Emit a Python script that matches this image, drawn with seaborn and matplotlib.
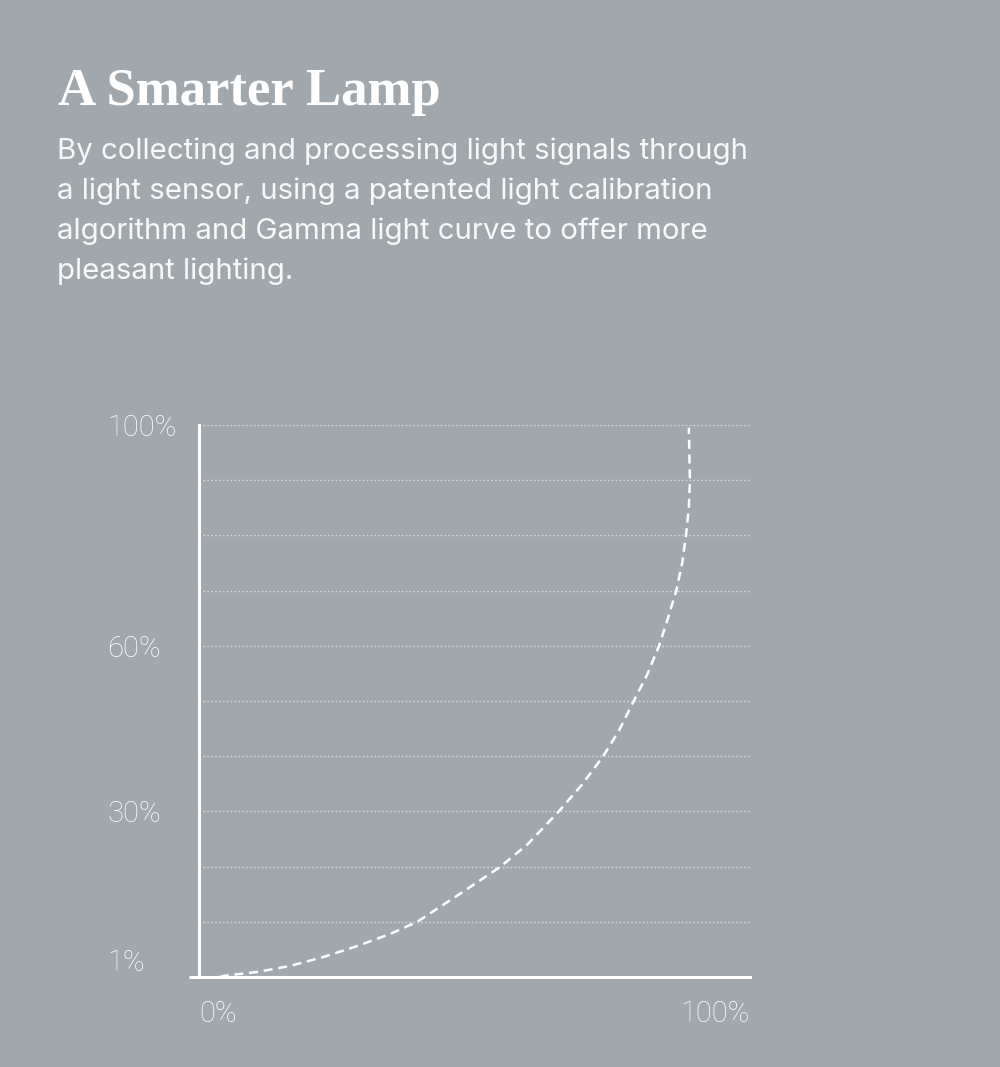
import matplotlib
matplotlib.use("Agg")
import matplotlib.pyplot as plt
import matplotlib.transforms as mtransforms
import seaborn as sns

# Text
title = "A Smarter Lamp"
body_lines = [
    "By collecting and processing light signals through",
    "a light sensor, using a patented light calibration",
    "algorithm and Gamma light curve to offer more",
    "pleasant lighting.",
]

# Gamma light curve (input % -> output %)
curve_x = [3.8, 4.4, 10.5, 16.5, 22.5, 28.7, 34.7, 39.6, 46.8, 54.6, 59.7, 65.2,
           69.3, 73.3, 76.2, 78.9, 81.3, 83.5, 85.1, 86.6, 87.7, 88.4, 88.9,
           89.1, 89.0, 88.9]
curve_y = [0.0, 0.2, 0.9, 2.0, 3.6, 5.6, 7.8, 10.0, 14.7, 19.9, 24.1, 29.9,
           34.6, 39.9, 44.6, 50.0, 54.7, 60.0, 65.0, 69.9, 75.0, 80.1, 85.0,
           90.0, 94.6, 99.5]

# Ticks and dotted guide levels
y_ticks = [1, 30, 60, 100]
y_tick_labels = ["1%", "30%", "60%", "100%"]
x_ticks = [0, 100]
x_tick_labels = ["0%", "100%"]
grid_levels = [10, 20, 30, 40, 50, 60, 70, 80, 90, 100]

bg = "#a1a8ad"
sns.set_theme(style="white", rc={"figure.facecolor": bg, "axes.facecolor": bg,
                                 "savefig.facecolor": bg})
plt.rcParams["font.family"] = ["Roboto", "DejaVu Sans"]

fig = plt.figure(figsize=(10, 10.67), dpi=100)
ax = fig.add_axes([0.199, 90 / 1067, 0.551, 552 / 1067])

# dotted guides
ax.hlines(grid_levels, 0, 100, colors="#d6dadc", linewidth=1.0,
          linestyles=(0, (1.2, 1.6)), zorder=1)

# the curve
sns.lineplot(x=curve_x, y=curve_y, sort=False, estimator=None, ax=ax,
             color="white", linewidth=1.8, linestyle=(0, (3.6, 2.3)), clip_on=False, zorder=3)

ax.set_xlim(0, 100)
ax.set_ylim(0, 100)
ax.set_xlabel("")
ax.set_ylabel("")

for side in ["top", "right"]:
    ax.spines[side].set_visible(False)
for side in ["left", "bottom"]:
    ax.spines[side].set_color("white")
    ax.spines[side].set_linewidth(2.2)

lab_color = "white"
ax.set_yticks(y_ticks)
ax.set_yticklabels(y_tick_labels, fontsize=21, fontweight="light", color=lab_color)
ax.set_xticks(x_ticks)
ax.set_xticklabels(x_tick_labels, fontsize=21, fontweight="light", color=lab_color)
ax.tick_params(axis="y", which="major", length=0, pad=66)
ax.tick_params(axis="x", which="major", length=0, pad=16.5)

# little caps at the ends of the y axis
ax.set_yticks([0, 100], minor=True)
ax.tick_params(axis="y", which="minor", length=7.5, width=2.2, color="white", left=True)

for lbl in ax.get_yticklabels():
    lbl.set_horizontalalignment("left")
xl = ax.get_xticklabels()
xl[0].set_horizontalalignment("left")
xl[-1].set_horizontalalignment("right")

# "1%" sits a bit above its level
one = ax.get_yticklabels()[0]
one.set_transform(one.get_transform() +
                  mtransforms.ScaledTranslation(0, 11 / 100, fig.dpi_scale_trans))

fig.text(58 / 1000, 1 - 105 / 1067, title, family=["Liberation Serif", "DejaVu Serif"],
         fontweight="bold", fontsize=38, color="white", va="baseline")
for i, line in enumerate(body_lines):
    fig.text(57 / 1000, 1 - (159 + 40 * i) / 1067, line,
             family=["Inter", "DejaVu Sans"], fontsize=21.2,
             color="#f7f8f8", va="baseline")

fig.savefig("out.png", dpi=100)
